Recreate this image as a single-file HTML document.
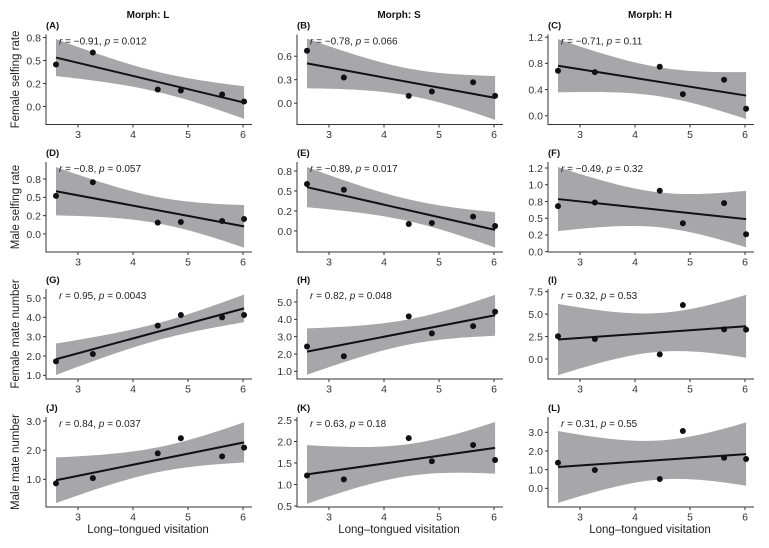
<!DOCTYPE html>
<html><head><meta charset="utf-8"><style>
html,body{margin:0;padding:0;background:#fff;}
svg{display:block;font-family:"Liberation Sans",Arial,sans-serif;}
</style></head><body>
<svg id="fig" width="769" height="548" viewBox="0 0 769 548"></svg>
<script>
const xVals=[2.6,3.27,4.45,4.87,5.62,6.02];
const panelLetters=['(A)','(B)','(C)','(D)','(E)','(F)','(G)','(H)','(I)','(J)','(K)','(L)'];
const colTitles=['Morph: L','Morph: S','Morph: H'];
const rowTitles=['Female selfing rate','Male selfing rate','Female mate number','Male mate number'];
const xTicks=[3,4,5,6];
const statR=['−0.91','−0.78','−0.71','−0.8','−0.89','−0.49','0.95','0.82','0.32','0.84','0.63','0.31'];
const statP=['0.012','0.066','0.11','0.057','0.017','0.32','0.0043','0.048','0.53','0.037','0.18','0.55'];
const yA=[0.457,0.587,0.185,0.174,0.13,0.054];
const yB=[0.669,0.328,0.094,0.149,0.268,0.094];
const yC=[0.687,0.666,0.748,0.33,0.55,0.107];
const yD=[0.52,0.705,0.154,0.164,0.177,0.205];
const yE=[0.587,0.516,0.0875,0.1,0.179,0.0625];
const yF=[0.68,0.735,0.91,0.425,0.725,0.26];
const yG=[1.72,2.10,3.57,4.12,4.0,4.12];
const yH=[2.43,1.87,4.17,3.19,3.61,4.44];
const yI=[2.53,2.23,0.52,6.01,3.3,3.27];
const yJ=[0.86,1.04,1.89,2.41,1.79,2.09];
const yK=[1.21,1.12,2.08,1.54,1.92,1.57];
const yL=[1.37,0.98,0.5,3.07,1.64,1.57];
const seriesY=[yA,yB,yC,yD,yE,yF,yG,yH,yI,yJ,yK,yL];
const domains=[[-0.196,0.783],[-0.272,0.877],[-0.133,1.241],[-0.246,0.982],[-0.263,0.8625],[-0.005,1.34],
[0.809,5.465],[0.556,5.75],[-2.23,7.8],[0.05,3.14],[0.477,2.57],[-1.0,3.82]];
const tickVals=[[0,0.25,0.5,0.75],[0,0.3,0.6],[0,0.4,0.8,1.2],[0,0.25,0.5,0.75],[0,0.25,0.5,0.75],[0,0.25,0.5,0.75,1,1.25],
[1,2,3,4,5],[1,2,3,4,5],[0,2.5,5,7.5],[1,2,3],[0.5,1,1.5,2,2.5],[0,1,2,3]];
const tickLabs=[['0.0','0.2','0.5','0.8'],['0.0','0.3','0.6'],['0.0','0.4','0.8','1.2'],['0.0','0.2','0.5','0.8'],['0.0','0.2','0.5','0.8'],['0.0','0.2','0.5','0.8','1.0','1.2'],
['1.0','2.0','3.0','4.0','5.0'],['1.0','2.0','3.0','4.0','5.0'],['0.0','2.5','5.0','7.5'],['1.0','2.0','3.0'],['0.5','1.0','1.5','2.0','2.5'],['0.0','1.0','2.0','3.0']];

const NS='http://www.w3.org/2000/svg';
const svg=document.getElementById('fig');
function mk(tag,attrs,parent){const e=document.createElementNS(NS,tag);for(const k in attrs)e.setAttribute(k,attrs[k]);(parent||svg).appendChild(e);return e;}
const rowAxisY=[124.5,252,379,507];
const PH=90;
const T975=2.776;

for(let c=0;c<3;c++){
  const t=mk('text',{x:148+c*251,y:18,'text-anchor':'middle','font-size':'10','font-weight':'bold',fill:'#111'});
  
  
  t.textContent=colTitles[c];
  const xt=mk('text',{x:148+c*251,y:533,'text-anchor':'middle','font-size':'11.5',fill:'#222'});
  
  
  xt.textContent='Long–tongued visitation';
}
for(let r=0;r<4;r++){
  const cy=rowAxisY[r]-PH/2;
  const t=mk('text',{x:0,y:0,'text-anchor':'middle','font-size':'11.5',fill:'#222',transform:`translate(19,${cy}) rotate(-90)`});
  
  
  t.textContent=rowTitles[r];
}

for(let i=0;i<12;i++){
  const r=Math.floor(i/3),c=i%3,off=c*251;
  const bottom=rowAxisY[r],top=bottom-PH;
  const [d0,d1]=domains[i];
  const sx=v=>78+off+(v-3)*55;
  const sy=v=>bottom-(v-d0)/(d1-d0)*PH;
  const g=mk('g',{});
  
  
  const ys=seriesY[i];
  const n=xVals.length;
  const mx=xVals.reduce((a,b)=>a+b)/n, my=ys.reduce((a,b)=>a+b)/n;
  let sxx=0,sxy=0;for(let k=0;k<n;k++){sxx+=(xVals[k]-mx)**2;sxy+=(xVals[k]-mx)*(ys[k]-my);}
  const b=sxy/sxx,a=my-b*mx;
  let sse=0;for(let k=0;k<n;k++)sse+=(ys[k]-a-b*xVals[k])**2;
  const s=Math.sqrt(sse/(n-2));
  const x0=Math.min(...xVals),x1=Math.max(...xVals);
  const up=[],lo=[];
  for(let k=0;k<=40;k++){const x=x0+(x1-x0)*k/40;const f=a+b*x;const hw=T975*s*Math.sqrt(1/n+(x-mx)**2/sxx);
    up.push(sx(x).toFixed(2)+','+sy(f+hw).toFixed(2));lo.unshift(sx(x).toFixed(2)+','+sy(f-hw).toFixed(2));}
  const cp=mk('clipPath',{id:'clip'+i},g);
  mk('rect',{x:46+off,y:top,width:210,height:PH},cp);
  const band=mk('polygon',{points:up.concat(lo).join(' '),fill:'#a7a7aa','clip-path':`url(#clip${i})`},g);
  
  
  const ln=mk('line',{x1:sx(x0),y1:sy(a+b*x0),x2:sx(x1),y2:sy(a+b*x1),stroke:'#111','stroke-width':'2'},g);
  
  
  for(let k=0;k<n;k++){
    const p=mk('circle',{cx:sx(xVals[k]),cy:sy(ys[k]),r:3,fill:'#111'},g);
    
    
  }
  const ya=mk('line',{x1:46+off,y1:top,x2:46+off,y2:bottom,stroke:'#333','stroke-width':'1'},g);
  
  
  const xa=mk('line',{x1:45.5+off,y1:bottom,x2:252+off,y2:bottom,stroke:'#333','stroke-width':'1'},g);
  
  
  tickVals[i].forEach((v,k)=>{
    const y=sy(v);
    mk('line',{x1:43+off,y1:y,x2:46+off,y2:y,stroke:'#333'},g);
    const tl=mk('text',{x:41+off,y:y+3.8,'text-anchor':'end','font-size':'10.5',fill:'#333'},g);
    
    
    tl.textContent=tickLabs[i][k];
  });
  xTicks.forEach(v=>{
    const x=sx(v);
    mk('line',{x1:x,y1:bottom,x2:x,y2:bottom+3,stroke:'#333'},g);
    const tl=mk('text',{x:x,y:bottom+13.5,'text-anchor':'middle','font-size':'10.5',fill:'#333'},g);
    
    
    tl.textContent=String(v);
  });
  const pl=mk('text',{x:46+off,y:top-6,'font-size':'9.5','font-weight':'bold',fill:'#111'},g);
  
  
  pl.textContent=panelLetters[i];
  const st=mk('text',{x:59+off,y:top+10,'font-size':'10',fill:'#222'},g);
  
  
  st.innerHTML=`<tspan font-style="italic">r</tspan> = ${statR[i]}, <tspan font-style="italic">p</tspan> = ${statP[i]}`;
}
</script>
</body></html>
